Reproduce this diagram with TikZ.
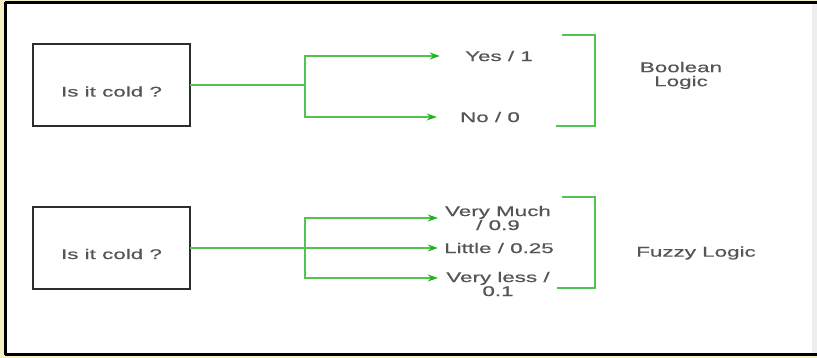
\documentclass[tikz,border=0pt]{standalone}
\usepackage{fontspec}
\setmainfont{Liberation Sans}[FakeStretch=1.6,FakeBold=0.6]
\usetikzlibrary{arrows.meta}
\definecolor{txt}{RGB}{85,85,85}
\definecolor{boxc}{RGB}{45,45,45}
\definecolor{grn}{RGB}{80,195,80}
\definecolor{grnhead}{RGB}{30,180,30}
\definecolor{pale}{RGB}{245,240,195}
\definecolor{edge}{RGB}{238,238,238}
\begin{document}
\begin{tikzpicture}[x=1pt,y=-1pt,
  every node/.style={font=\fontsize{14}{14}\selectfont, text=txt, inner sep=0pt},
  qbox/.style={draw=boxc, line width=2pt, minimum width=157pt, minimum height=82pt, outer sep=0pt},
  lbl/.style={align=center},
  gline/.style={draw=grn, line width=1.4pt},
  garr/.style={gline, -{Stealth[length=10pt,width=7pt,fill=grnhead,color=grnhead]}},
  brk/.style={draw=grn, line width=1.4pt},
  frame/.style={draw=black, line width=2.5pt}]
\useasboundingbox (0,0) rectangle (817,358);
% page background and frame
\fill[pale] (0,0) rectangle (817,358);
\fill[white] (5,2) rectangle (817,355);
\fill[edge] (812,4) rectangle (817,353);
\draw[frame] (5,2.5) -- (817,2.5);
\draw[frame] (5.5,2) -- (5.5,355);
\draw[frame] (5,354.5) -- (817,354.5);

% Boolean part
\node[qbox] (q1) at (111.5,85) {\raisebox{-11.5pt}[0pt][0pt]{Is it cold ?}};
\coordinate (j1) at (305,85);
\node[lbl, minimum width=118pt] (yes) at (499,56) {Yes / 1};
\node[lbl, minimum width=106pt] (no) at (490,117) {No / 0};
\draw[garr] (q1.east) -- (j1) |- (yes.west);
\draw[garr] (j1) |- (no.west);
\draw[brk] (562,35) -- (595,35) -- (595,126) -- (556,126);
\node[lbl] (bool) at (681,75.5) {Boolean\\Logic};

% Fuzzy part
\node[qbox] (q2) at (111.5,248) {\raisebox{-11pt}[0pt][0pt]{Is it cold ?}};
\coordinate (j2) at (305,248);
\node[lbl, minimum width=120pt] (vm) at (498,218) {Very Much\\/ 0.9};
\node[lbl, minimum width=122pt] (li) at (499,248) {Little / 0.25};
\node[lbl, minimum width=120pt] (vl) at (498,284) {Very less /\\0.1};
\draw[garr] (q2.east) -- (j2) -- (li.west);
\draw[garr] (j2) |- (vm.west);
\draw[garr] (j2) |- ([yshift=6pt]vl.west);
\draw[brk] (562,197) -- (595,197) -- (595,288) -- (557,288);
\node[lbl] (fuzzy) at (696,253) {Fuzzy Logic};
\end{tikzpicture}
\end{document}
